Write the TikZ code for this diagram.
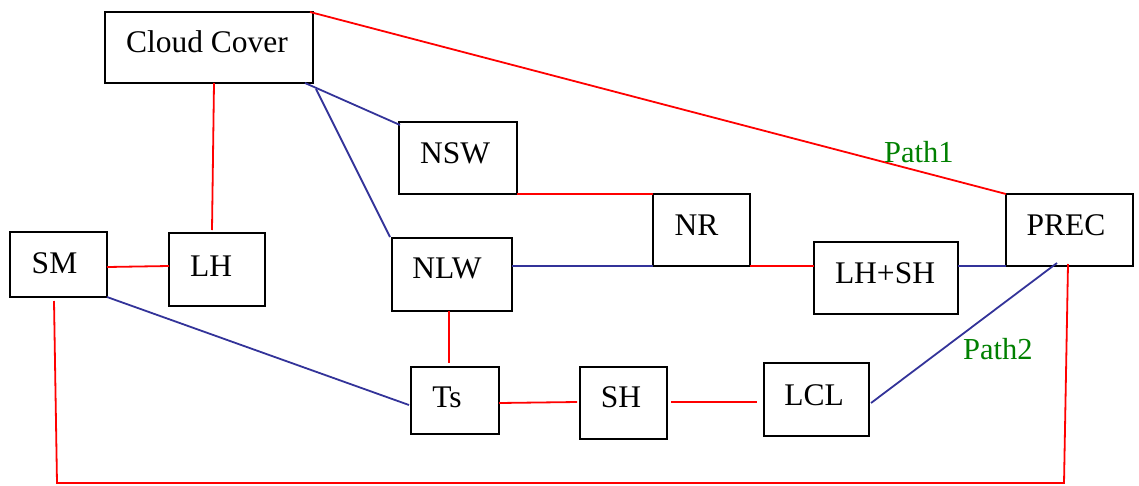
\documentclass[tikz,border=0pt]{standalone}
\usepackage{fontspec}
\setmainfont{Liberation Serif}
\definecolor{linkred}{RGB}{255,0,0}
\definecolor{linkblue}{RGB}{51,51,153}
\definecolor{pathgreen}{RGB}{0,128,0}
% place box text: #1 = horizontal offset of text centre, #2 = raise of baseline
\newcommand{\boxtext}[3]{\raisebox{#2pt}{\hspace*{#1pt}\hspace*{#1pt}#3}}
\begin{document}
\begin{tikzpicture}[x=1pt,y=-1pt,
  box/.style={draw=black, line width=2pt, inner sep=0pt, outer sep=0pt,
    text height=0pt, text depth=0pt,
    font=\fontsize{31.5}{36}\selectfont},
  redlink/.style={draw=linkred, line width=1.8pt},
  bluelink/.style={draw=linkblue, line width=1.8pt},
  pathlabel/.style={text=pathgreen, inner sep=0pt, anchor=base west,
    font=\fontsize{30.5}{36}\selectfont}]
\useasboundingbox (0,0) rectangle (1139,485);

% variable boxes
\node[box, minimum width=208pt, minimum height=71pt] (cc)   at (209,47.5)   {\boxtext{-2}{-4.5}{Cloud Cover}};
\node[box, minimum width=97pt,  minimum height=65pt] (sm)   at (58.5,264.5) {\boxtext{-4}{-8.5}{SM}};
\node[box, minimum width=96pt,  minimum height=73pt] (lh)   at (217,269.5)  {\boxtext{-6}{-6.5}{LH}};
\node[box, minimum width=118pt, minimum height=72pt] (nsw)  at (458,158)    {\boxtext{-3}{-5}{NSW}};
\node[box, minimum width=97pt,  minimum height=72pt] (nr)   at (701.5,230)  {\boxtext{-5}{-5}{NR}};
\node[box, minimum width=120pt, minimum height=73pt] (nlw)  at (452,274.5)  {\boxtext{-5}{-3.5}{NLW}};
\node[box, minimum width=127pt, minimum height=72pt] (prec) at (1069.5,230) {\boxtext{-3.5}{-5}{PREC}};
\node[box, minimum width=144pt, minimum height=72pt] (lhsh) at (886,278)    {\boxtext{-1}{-5}{LH+SH}};
\node[box, minimum width=88pt,  minimum height=67pt] (ts)   at (455,400.5)  {\boxtext{-8}{-6.5}{Ts}};
\node[box, minimum width=87pt,  minimum height=72pt] (sh)   at (623.5,403)  {\boxtext{-2.5}{-4}{SH}};
\node[box, minimum width=105pt, minimum height=73pt] (lcl)  at (816.5,399.5){\boxtext{-2.5}{-5.5}{LCL}};

% corners of the bottom loop from SM to PREC
\coordinate (bl) at (57,483);
\coordinate (br) at (1064,483);

% red links
\draw[redlink] ([xshift=-3pt]cc.north east) -- (prec.north west);
\draw[redlink] ([xshift=5pt]cc.south) -- ([xshift=-5pt,yshift=3pt]lh.north);
\draw[redlink] ([yshift=-2.5pt]sm.east) -- ([yshift=3.5pt]lh.west);
\draw[redlink] (nsw.south east) -- (nr.north west);
\draw[redlink] (nr.south east) -- ([yshift=12pt]lhsh.west);
\draw[redlink] ([xshift=-3pt]nlw.south) -- ([xshift=-6pt,yshift=4pt]ts.north);
\draw[redlink] ([yshift=-2.5pt]ts.east) -- ([xshift=-3pt,yshift=1pt]sh.west);
\draw[redlink] ([xshift=4pt,yshift=1pt]sh.east) -- ([xshift=-7pt,yshift=-2.5pt]lcl.west);
\draw[redlink] ([xshift=-4.5pt,yshift=-4pt]sm.south) -- (bl) -- (br)
  -- ([xshift=-1.5pt,yshift=2pt]prec.south);

% blue links
\draw[bluelink] ([xshift=-8pt]cc.south east) -- ([xshift=1pt,yshift=-3pt]nsw.north west);
\draw[bluelink] ([xshift=3pt,yshift=-6pt]cc.south east) -- ([xshift=-2pt,yshift=1pt]nlw.north west);
\draw[bluelink] (sm.south east) -- ([xshift=-2pt,yshift=-4.5pt]ts.west);
\draw[bluelink] ([yshift=8.5pt]nlw.east) -- (nr.south west);
\draw[bluelink] ([yshift=12pt]lhsh.east) -- (prec.south west);
\draw[bluelink] ([xshift=2pt,yshift=-3.5pt]lcl.east) -- ([xshift=-12.5pt,yshift=3pt]prec.south);

% path labels
\node[pathlabel] (path1) at (884,162) {Path1};
\node[pathlabel] (path2) at (963,359) {Path2};
\end{tikzpicture}
\end{document}
